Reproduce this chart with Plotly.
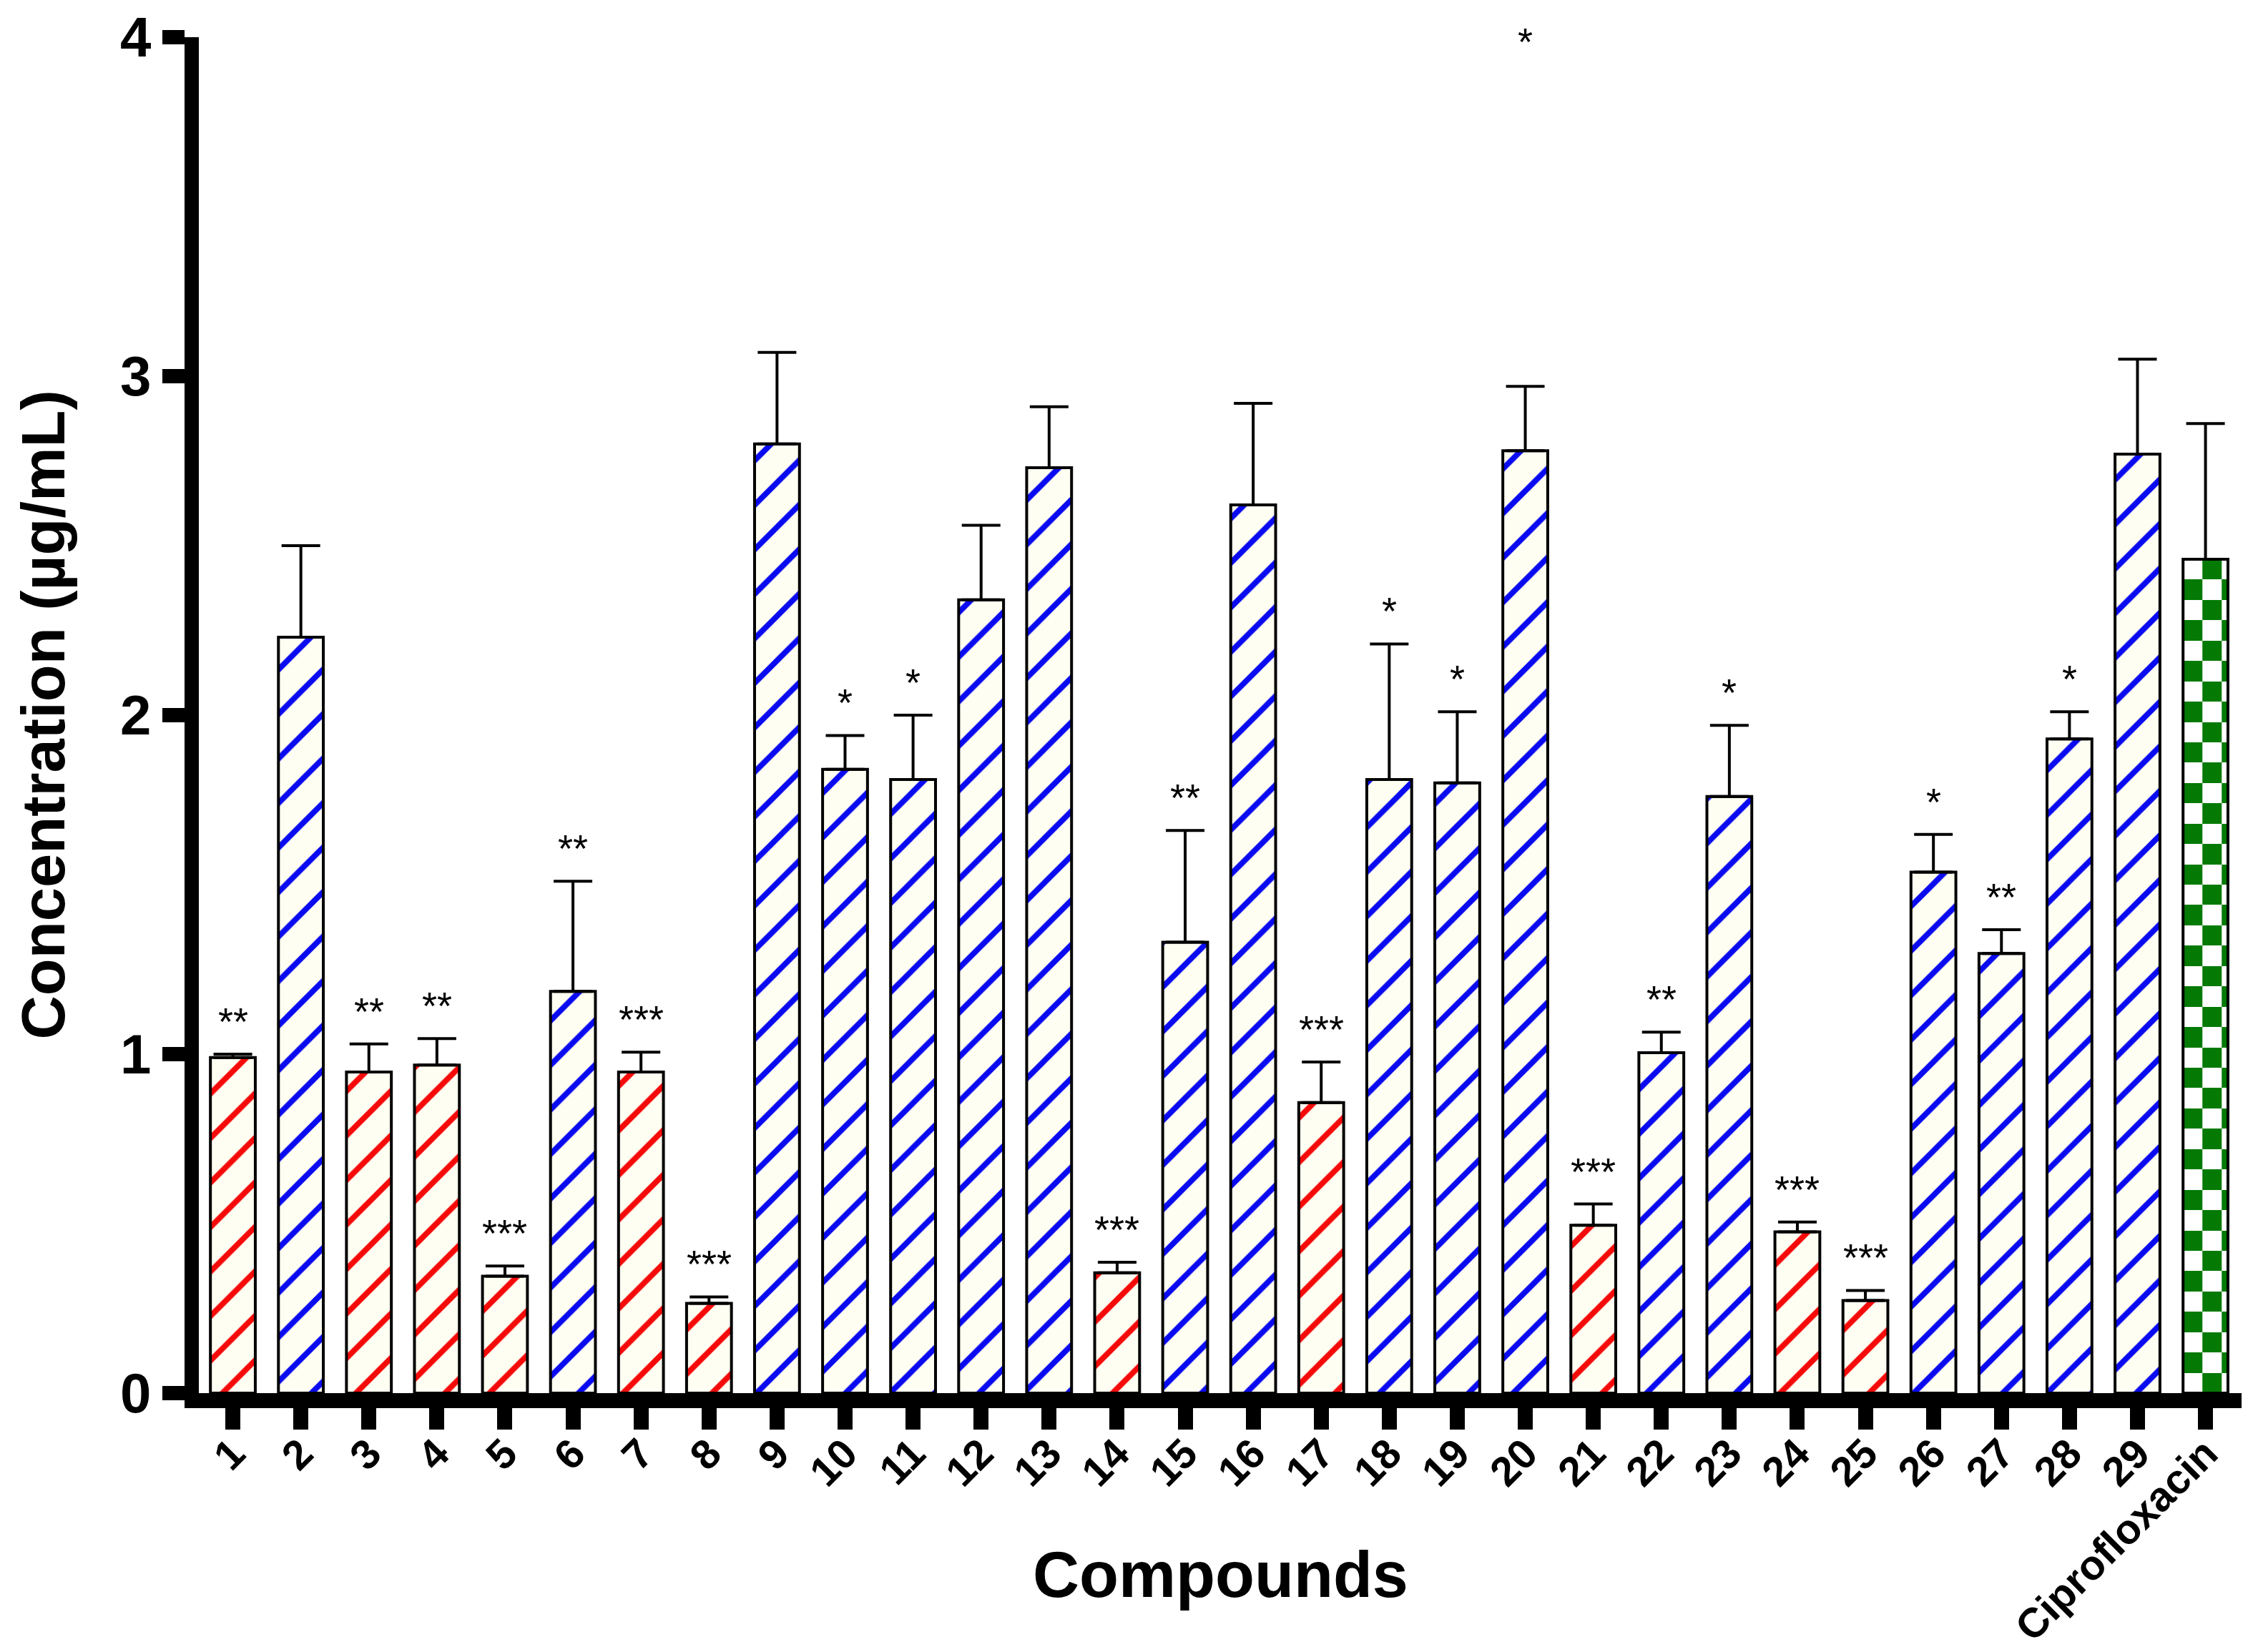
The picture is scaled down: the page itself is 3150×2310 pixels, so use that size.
import math
import plotly.graph_objects as go

# data
compounds = [str(i) for i in range(1, 30)] + ["Ciprofloxacin"]
means = [0.99, 2.23, 0.947, 0.968, 0.345, 1.185, 0.947, 0.265, 2.80, 1.84,
         1.81, 2.34, 2.73, 0.355, 1.33, 2.62, 0.857, 1.81, 1.80, 2.78,
         0.495, 1.004, 1.76, 0.476, 0.273, 1.537, 1.297, 1.93, 2.77, 2.46]
sd = [0.01, 0.27, 0.083, 0.078, 0.03, 0.325, 0.059, 0.019, 0.27, 0.10,
      0.19, 0.22, 0.18, 0.031, 0.33, 0.30, 0.12, 0.40, 0.21, 0.19,
      0.063, 0.061, 0.21, 0.029, 0.03, 0.111, 0.07, 0.08, 0.28, 0.40]
stars = ["**", "", "**", "**", "***", "**", "***", "***", "", "*",
         "*", "", "", "***", "**", "", "***", "*", "*", "*",
         "***", "**", "*", "***", "***", "*", "**", "*", "", ""]
group = ["red", "blue", "red", "red", "red", "blue", "red", "red", "blue", "blue",
         "blue", "blue", "blue", "red", "blue", "blue", "red", "blue", "blue", "blue",
         "red", "blue", "blue", "red", "red", "blue", "blue", "blue", "blue", "control"]
# the star of compound 20 sits at the very top of the chart
star_y_override = {"20": 3.89}

RED = "#f50a0a"
BLUE = "#0a0af0"
GREEN = "#047a04"
CREAM = "#fffef2"
FONT = "Arial, Liberation Sans, sans-serif"

bar_width = 0.66
check_w = 0.284
check_h = 0.06

x_pos = list(range(len(compounds)))
hatched = [i for i, g in enumerate(group) if g != "control"]
cip = len(compounds) - 1

fig = go.Figure()

# checkerboard fill of the ciprofloxacin bar
left = cip - bar_width / 2
right = cip + bar_width / 2
xe = [left]
while xe[-1] + check_w < right - 1e-9:
    xe.append(xe[-1] + check_w)
xe.append(right)
n_rows = math.ceil(means[cip] / check_h)
ye = ([means[cip] - i * check_h for i in range(n_rows)] + [0])[::-1]
z = [[((n_rows - 1 - j) + i) % 2 for i in range(len(xe) - 1)] for j in range(n_rows)]
fig.add_trace(go.Heatmap(x=xe, y=ye, z=z, zmin=0, zmax=1,
                         colorscale=[[0, "white"], [1, GREEN]],
                         showscale=False, hoverinfo="skip", zsmooth=False))

err_style = dict(type="data", symmetric=False, color="black", thickness=4, width=27)

# hatched compound bars
fig.add_trace(go.Bar(
    x=[x_pos[i] for i in hatched], y=[means[i] for i in hatched], width=bar_width,
    marker=dict(color=CREAM,
                line=dict(color="black", width=4),
                pattern=dict(shape="/", fgcolor=[RED if group[i] == "red" else BLUE for i in hatched],
                             fgopacity=1, size=44, solidity=0.18, fillmode="overlay")),
    error_y=dict(array=[sd[i] for i in hatched], arrayminus=[0] * len(hatched), **err_style),
    showlegend=False))

# ciprofloxacin outline over the checkerboard
fig.add_trace(go.Bar(
    x=[x_pos[cip]], y=[means[cip]], width=bar_width,
    marker=dict(color="rgba(0,0,0,0)", line=dict(color="black", width=4)),
    error_y=dict(array=[sd[cip]], arrayminus=[0], **err_style),
    showlegend=False))

for i, (lab, s) in enumerate(zip(compounds, stars)):
    if not s:
        continue
    fig.add_annotation(x=i, y=star_y_override.get(lab, means[i] + sd[i]),
                       text=s, showarrow=False, yanchor="bottom", yshift=14,
                       font=dict(family=FONT, size=54, color="black"))

fig.add_annotation(text="Compounds", xref="paper", yref="paper", x=0.5, y=-0.134,
                   showarrow=False, yanchor="middle",
                   font=dict(family=FONT, size=90, color="black", weight="bold"))
fig.add_annotation(text="Concentration (µg/mL)", xref="paper", yref="paper",
                   x=-0.0765, y=0.5, textangle=-90, showarrow=False,
                   xanchor="center", yanchor="middle",
                   font=dict(family=FONT, size=85, color="black", weight="bold"))

fig.update_layout(
    width=3150, height=2310,
    margin=dict(l=270, r=24, t=44, b=370),
    plot_bgcolor="white", paper_bgcolor="white",
    showlegend=False, barmode="overlay",
    xaxis=dict(range=[-0.5, 29.53], tickvals=x_pos, ticktext=compounds,
               tickangle=-45, ticks="outside", ticklen=30, tickwidth=21,
               tickcolor="black", showline=True, linewidth=21, linecolor="black",
               showgrid=False, zeroline=False, automargin=False,
               ticklabeloverflow="allow", ticklabelstandoff=-24,
               tickfont=dict(family=FONT, size=58, color="black", weight="bold")),
    yaxis=dict(range=[0, 4], tickvals=[0, 1, 2, 3, 4], ticks="outside",
               ticklen=31, tickwidth=20, tickcolor="black",
               showline=True, linewidth=20, linecolor="black",
               showgrid=False, zeroline=False, automargin=False,
               ticklabeloverflow="allow",
               tickfont=dict(family=FONT, size=78, color="black", weight="bold")),
)

fig.write_html("out.html")
